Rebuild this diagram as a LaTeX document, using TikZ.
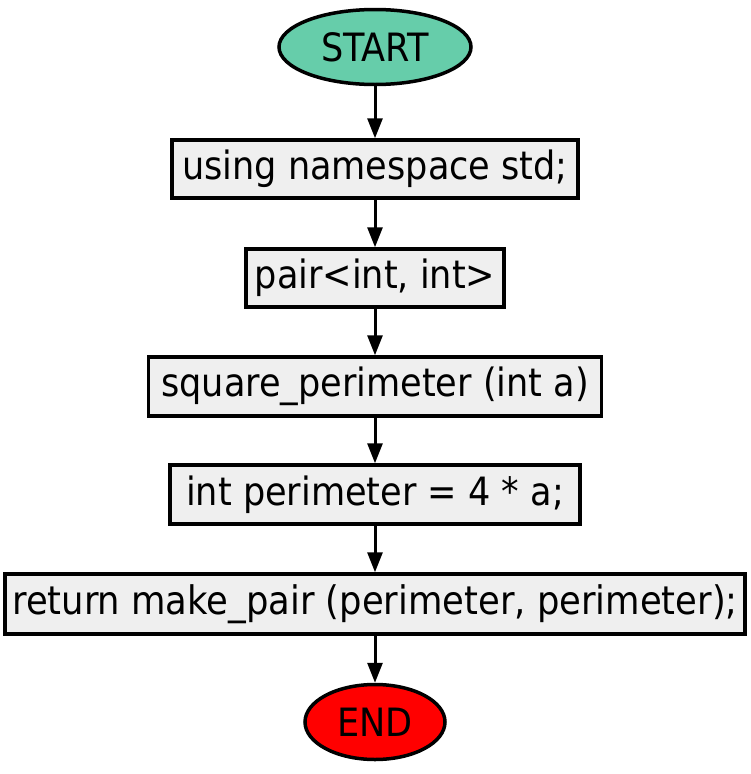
\documentclass[tikz,border=0pt]{standalone}
\usepackage{fontspec}
\setmainfont{DejaVu Sans Condensed}
\usetikzlibrary{shapes.geometric,arrows.meta}
\definecolor{startc}{HTML}{66CDAA}
\definecolor{endc}{HTML}{FF0000}
\definecolor{boxc}{HTML}{EFEFEF}
\tikzset{
  every node/.style={font=\fontsize{39}{42}\selectfont, inner sep=0pt},
  term/.style={ellipse, draw=black, line width=3.5pt},
  stmt/.style={rectangle, draw=black, line width=3.5pt, fill=boxc},
  conn/.style={line width=3pt, -{Triangle[length=20pt,width=15pt]}}
}
\begin{document}
\begin{tikzpicture}[x=1pt,y=1pt]
\useasboundingbox (0,0) rectangle (750,-774);
\node[term, fill=startc, minimum width=192pt, minimum height=75pt] (start) at (375,-47) {START};
\node[stmt, minimum width=406pt, minimum height=58pt] (b1) at (375,-169) {using namespace std;};
\node[stmt, minimum width=258pt, minimum height=58pt] (b2) at (375,-278) {pair<int, int>};
\node[stmt, minimum width=453pt, minimum height=59pt] (b3) at (375,-386.5) {square\_perimeter (int a)};
\node[stmt, minimum width=410pt, minimum height=59pt] (b4) at (375,-494.5) {int perimeter = 4 * a;};
\node[stmt, minimum width=740pt, minimum height=60pt] (b5) at (375,-604) {\fontsize{39.3}{42}\selectfont return make\_pair (perimeter, perimeter);};
\node[term, fill=endc, minimum width=140pt, minimum height=75pt] (end) at (375,-722) {END};
\draw[conn] (start) -- (b1);
\draw[conn] (b1) -- (b2);
\draw[conn] (b2) -- (b3);
\draw[conn] (b3) -- (b4);
\draw[conn] (b4) -- (b5);
\draw[conn] (b5) -- (end);
\end{tikzpicture}
\end{document}
